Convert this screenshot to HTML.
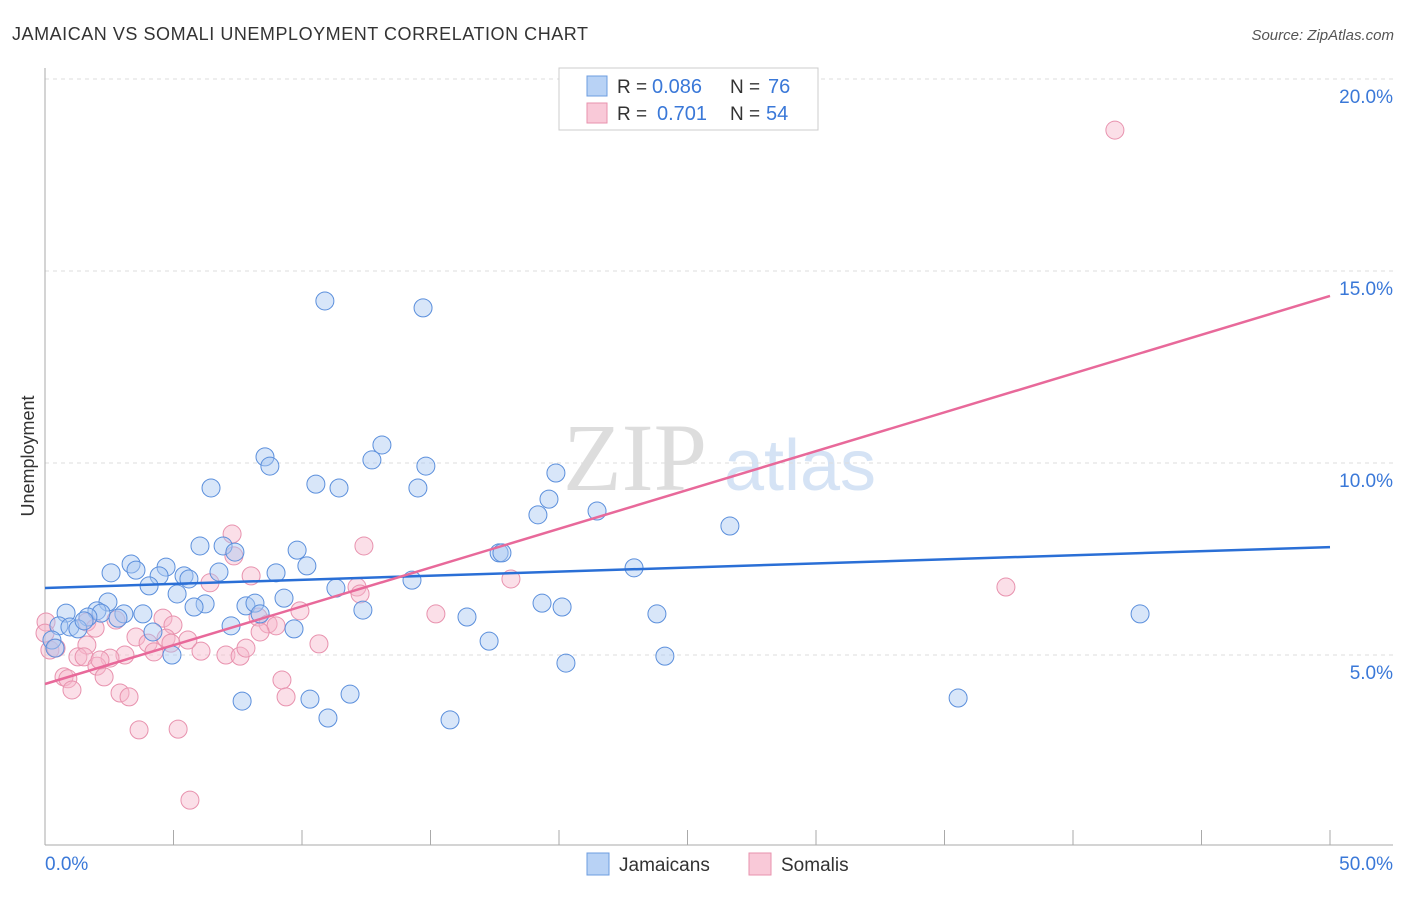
<!DOCTYPE html>
<html><head><meta charset="utf-8"><style>
body{margin:0;background:#fff;font-family:"Liberation Sans",sans-serif}
</style></head><body>
<svg width="1406" height="892" xmlns="http://www.w3.org/2000/svg" font-family="Liberation Sans, sans-serif">
<text x="12" y="40" font-size="18" fill="#333" textLength="576">JAMAICAN VS SOMALI UNEMPLOYMENT CORRELATION CHART</text>
<text x="1394" y="40" font-size="15" fill="#555" text-anchor="end" font-style="italic">Source: ZipAtlas.com</text>
<g>
<text x="635" y="490" font-size="96" fill="#ddd" text-anchor="middle" font-family="Liberation Serif, serif">ZIP</text>
<text x="800" y="490" font-size="72" fill="#d5e3f5" text-anchor="middle">atlas</text></g>
<g id="grid"></g><g id="axes"></g><g id="pts"></g><g id="lines"></g>
<text transform="translate(34,456) rotate(-90)" font-size="18" fill="#333" text-anchor="middle">Unemployment</text>
<g>
<rect x="559" y="68" width="259" height="62" fill="#fff" stroke="#ccc"/>
<rect x="587" y="76" width="20" height="20" fill="#b8d2f5" stroke="#6d9de0"/>
<rect x="587" y="103" width="20" height="20" fill="#f9c9d8" stroke="#e892ae"/>
<text x="617" y="93" font-size="19" fill="#333">R =</text>
<text x="652" y="93" font-size="20" fill="#3a78d8">0.086</text>
<text x="730" y="93" font-size="19" fill="#333">N =</text>
<text x="768" y="93" font-size="20" fill="#3a78d8">76</text>
<text x="617" y="120" font-size="19" fill="#333">R =</text>
<text x="657" y="120" font-size="20" fill="#3a78d8">0.701</text>
<text x="730" y="120" font-size="19" fill="#333">N =</text>
<text x="766" y="120" font-size="20" fill="#3a78d8">54</text></g>
<g>
<rect x="587" y="853" width="22" height="22" fill="#b8d2f5" stroke="#6d9de0"/>
<text x="619" y="871" font-size="19" fill="#333">Jamaicans</text>
<rect x="749" y="853" width="22" height="22" fill="#f9c9d8" stroke="#e892ae"/>
<text x="781" y="871" font-size="19" fill="#333">Somalis</text></g>
<script>
const xTicks=[0,50];
const yTicks=[5,10,15,20];
const blueX=[325,423,382,265,270,372,426,211,316,339,418,556,549,538,597,730,200,223,235,297,307,499,502,131,136,166,111,219,276,184,189,159,149,177,336,412,634,108,205,194,246,255,284,363,467,542,562,657,1140,66,97,101,124,143,88,118,59,70,78,84,231,260,294,153,52,55,172,489,665,566,242,310,350,328,450,958].map(p=>+((p-45)/1285*50).toFixed(2));
const blueY=[301,308,445,457,466,460,466,488,484,488,488,473,499,515,511,526,546,546,552,550,566,553,553,564,570,567,573,572,573,576,579,576,586,594,588,580,568,602,604,607,606,603,598,610,617,603,607,614,614,613,611,613,614,614,617,618,626,627,629,621,626,614,629,632,640,648,655,641,656,663,701,699,694,718,720,698].map(p=>+((847-p)/192*5).toFixed(2));
const pinkX=[1115,232,364,234,251,210,357,360,511,1006,436,300,163,116,87,95,173,258,268,276,260,136,148,188,166,154,46,50,87,125,171,201,226,240,246,78,84,110,97,100,319,104,64,68,72,120,129,282,286,139,178,190,45,56].map(p=>+((p-45)/1285*50).toFixed(2));
const pinkY=[130,534,546,556,576,583,587,594,579,587,614,611,618,620,622,628,625,617,624,626,632,637,643,640,638,652,622,650,645,655,643,651,655,656,648,657,657,658,666,660,644,677,677,679,690,693,697,680,697,730,729,800,633,648].map(p=>+((847-p)/192*5).toFixed(2));
const blueTrend=[6.745,7.81];
const pinkTrend=[4.245,14.35];
const X=v=>45+v/50*1285, Y=v=>847-v/5*192;
const NS="http://www.w3.org/2000/svg";
function mk(parent,tag,attrs){const e=document.createElementNS(NS,tag);for(const k in attrs)e.setAttribute(k,attrs[k]);document.getElementById(parent).appendChild(e);return e;}
yTicks.forEach(t=>{
 const l=mk('grid','line',{x1:45,x2:1393,y1:Y(t),y2:Y(t),stroke:'#ddd','stroke-dasharray':'4,4'});
 
 
 const tx=mk('grid','text',{x:1393,y:Y(t)+24,'font-size':19,fill:'#3a78d8','text-anchor':'end'});
 tx.textContent=t.toFixed(1)+'%';
 
 
});
const ax=mk('axes','line',{x1:45,x2:45,y1:68,y2:845,stroke:'#aaa'});


const bx=mk('axes','line',{x1:45,x2:1393,y1:845,y2:845,stroke:'#aaa'});


for(let i=0;i<=10;i++){const t=mk('axes','line',{x1:X(i*5),x2:X(i*5),y1:830,y2:845,stroke:'#aaa'});
 
 }
xTicks.forEach((t,i)=>{const tx=mk('axes','text',{x:i?1393:45,y:870,'font-size':19,fill:'#3a78d8','text-anchor':i?'end':'start'});
 tx.textContent=t.toFixed(1)+'%';
 
 });
function pts(xs,ys,f,s,n){xs.forEach((x,i)=>{const c=mk('pts','circle',{cx:X(x),cy:Y(ys[i]),r:9,fill:f,'fill-opacity':0.45,stroke:s,'stroke-width':1});
 
 });}
pts(pinkX,pinkY,'#f7b8cc','#e892ae','somali-point');
pts(blueX,blueY,'#a9c8f2','#5b8fdc','jamaican-point');
const bl=mk('lines','line',{x1:X(0),y1:Y(blueTrend[0]),x2:X(50),y2:Y(blueTrend[1]),stroke:'#2a6fd6','stroke-width':2.5});


const pl=mk('lines','line',{x1:X(0),y1:Y(pinkTrend[0]),x2:X(50),y2:Y(pinkTrend[1]),stroke:'#e8699a','stroke-width':2.5});


</script>
</svg>
</body></html>
